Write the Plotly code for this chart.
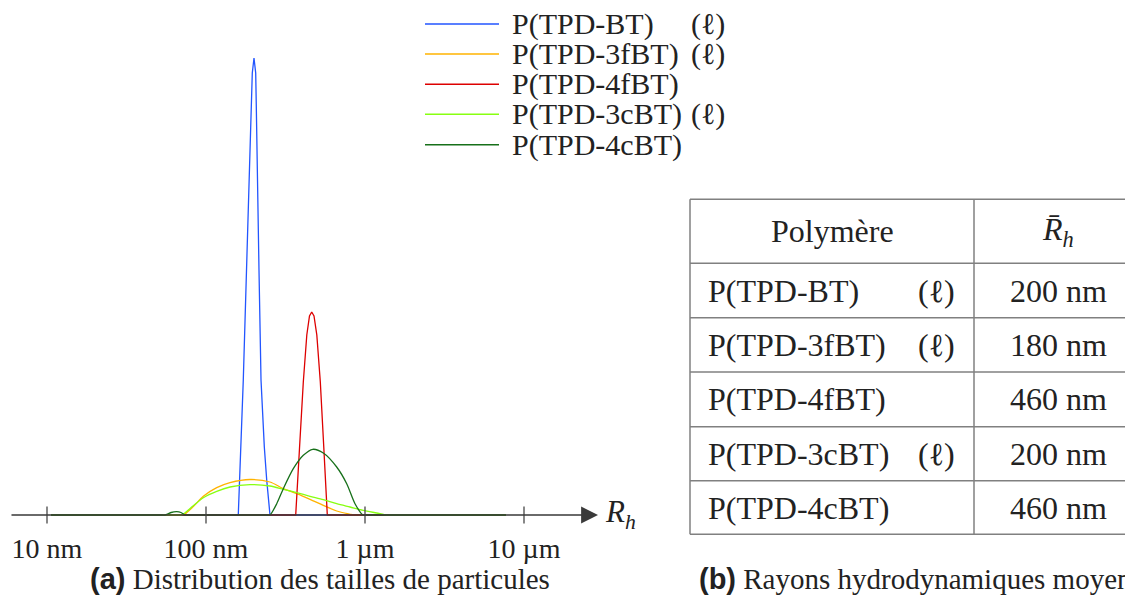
import math
import plotly.graph_objects as go

# ---------------- data ----------------
names = ["P(TPD-BT)", "P(TPD-3fBT)", "P(TPD-4fBT)", "P(TPD-3cBT)", "P(TPD-4cBT)"]
tags = ["(ℓ)", "(ℓ)", "", "(ℓ)", ""]
mean_rh = ["200 nm", "180 nm", "460 nm", "200 nm", "460 nm"]

rh_bt = [10.6, 155, 159.6, 171.6, 179.3, 187.2, 191.9, 195.5, 200.4, 205.4, 207.2,
         209.3, 215.4, 221.8, 226.0, 232.7, 240.9, 252.6, 262, 7700]
int_bt = [0, 0, 0, 13.5, 24.5, 35.5, 40.8, 44.2, 45.7, 44.2, 40.8,
          35.5, 24.5, 13.5, 10.2, 6.8, 3.5, 0, 0, 0]

rh_3fbt = [10.6, 69, 72.0, 83.2, 96.2, 116.8, 141.6, 189.1, 252.6, 306.4, 371.9,
           451.0, 546.6, 663.7, 804.9, 844.1, 880, 7700]
int_3fbt = [0, 0, 0, 0.85, 1.87, 2.73, 3.23, 3.55, 3.3, 2.63, 2.13,
            1.57, 0.97, 0.4, 0.07, 0, 0, 0]

rh_4fbt = [10.6, 355, 366.6, 387.4, 409.3, 430.5, 447.6, 462.2, 477.8, 497.7,
           523.6, 550.8, 579.3, 595, 7700]
int_4fbt = [0, 0, 0, 6.7, 13.3, 18.0, 19.9, 20.3, 19.9, 18.0,
            13.3, 6.7, 0, 0, 0]

rh_3cbt = [10.6, 67.5, 70.3, 83.2, 96.2, 116.8, 141.6, 189.1, 252.6, 306.4, 371.9,
           451.0, 546.6, 663.7, 804.9, 975.7, 1185, 1369.6, 1430, 7700]
int_3cbt = [0, 0, 0, 0.93, 1.73, 2.37, 2.8, 3.03, 2.9, 2.57, 2.23,
            1.87, 1.53, 1.13, 0.8, 0.47, 0.2, 0, 0, 0]

rh_4cbt = [10.6, 53, 55.2, 60.3, 65.4, 69.6, 73.8, 76.5, 245, 252.6, 278.5, 306.4,
           354.1, 409.3, 469.0, 546.6, 663.7, 767.4, 865.2, 971.4, 1000, 7700]
int_4cbt = [0, 0, 0, 0.25, 0.33, 0.25, 0, 0, 0, 0, 1.13, 2.63,
            4.63, 5.97, 6.57, 6.2, 4.8, 3.13, 1.13, 0, 0, 0]

series_rh = [rh_bt, rh_3fbt, rh_4fbt, rh_3cbt, rh_4cbt]
series_int = [int_bt, int_3fbt, int_4fbt, int_3cbt, int_4cbt]

tick_vals = [10, 100, 1000, 10000]
tick_text = ["10 nm", "100 nm", "1 µm", "10 µm"]

# ---------------- style / layout ----------------
OFF = 8                      # page body margin of the html page
W, H = 1133 - OFF, 595 - OFF
SERIF = "Liberation Serif"
TXT = "#222222"
colors = ["#2255ff", "#ffb300", "#dd0000", "#88ff11", "#17701a"]
shapes_mode = ["linear", "spline", "linear", "spline", "spline"]
AXIS_COLOR = "#3a3a3a"
GRID_COLOR = "#808080"
axis_start_nm = 5.85
axis_tip_nm = 29200
tick_half = 0.85
X0PX, DEC = 47, 159
BASE, UNIT = 515, 10
LEG_FS, TAB_FS, TICK_FS, CAP_FS = 30, 32, 28, 29


def px(x):
    return (x - OFF) / W


def py(y):
    return 1 - (y - OFF) / H


fig = go.Figure()

for name, c, mode, xs, ys in zip(names, colors, shapes_mode, series_rh, series_int):
    fig.add_trace(go.Scatter(
        x=xs, y=ys, mode="lines", name=name,
        line=dict(color=c, width=1.3, shape=mode, smoothing=0.8),
        showlegend=False, hoverinfo="skip"))

tx, ty = [], []
for v in tick_vals:
    tx += [v, v, None]
    ty += [-tick_half, tick_half, None]
fig.add_trace(go.Scatter(x=tx, y=ty, mode="lines",
                         line=dict(color="#555555", width=1.4),
                         showlegend=False, hoverinfo="skip"))

annotations = []
shapes = []

annotations.append(dict(
    x=math.log10(axis_tip_nm), y=0, xref="x", yref="y",
    ax=math.log10(axis_start_nm), ay=0, axref="x", ayref="y",
    text="", showarrow=True, arrowhead=2, arrowsize=2.6, arrowwidth=1.3,
    arrowcolor=AXIS_COLOR, standoff=0, startstandoff=0))

annotations.append(dict(
    x=px(603), y=py(514), xref="paper", yref="paper", xanchor="left", yanchor="middle",
    text="<i>R</i><sub><i>h</i></sub>", showarrow=False,
    font=dict(family=SERIF, size=31, color=TXT)))

leg_y = [24, 54, 84.3, 114.3, 144.7]
for i, (name, tag, c) in enumerate(zip(names, tags, colors)):
    y = leg_y[i]
    shapes.append(dict(type="line", xref="paper", yref="paper",
                       x0=px(425), x1=px(499), y0=py(y), y1=py(y),
                       line=dict(color=c, width=1.5)))
    annotations.append(dict(x=px(510), y=py(y), xref="paper", yref="paper",
                            xanchor="left", yanchor="middle", text=name, showarrow=False,
                            font=dict(family=SERIF, size=LEG_FS, color=TXT)))
    if tag:
        annotations.append(dict(x=px(689), y=py(y), xref="paper", yref="paper",
                                xanchor="left", yanchor="middle", text=tag, showarrow=False,
                                font=dict(family=SERIF, size=LEG_FS, color=TXT)))

row_lines = [199.3, 263.3, 317.7, 372, 426.7, 480.7, 534.3]
for y in row_lines:
    shapes.append(dict(type="line", xref="paper", yref="paper",
                       x0=px(690), x1=px(1160), y0=py(y), y1=py(y),
                       line=dict(color=GRID_COLOR, width=1.5)))
for x in [690, 974]:
    shapes.append(dict(type="line", xref="paper", yref="paper",
                       x0=px(x), x1=px(x), y0=py(row_lines[0]), y1=py(row_lines[-1]),
                       line=dict(color=GRID_COLOR, width=1.5)))

annotations.append(dict(x=px(832), y=py(231.3), xref="paper", yref="paper",
                        xanchor="center", yanchor="middle", text="Polymère", showarrow=False,
                        font=dict(family=SERIF, size=TAB_FS, color=TXT)))
annotations.append(dict(x=px(1058), y=py(231.3), xref="paper", yref="paper",
                        xanchor="center", yanchor="middle",
                        text="<i>R̄</i><sub><i>h</i></sub>", showarrow=False,
                        font=dict(family=SERIF, size=TAB_FS, color=TXT)))
for i, (name, tag, val) in enumerate(zip(names, tags, mean_rh)):
    yc = (row_lines[i + 1] + row_lines[i + 2]) / 2
    annotations.append(dict(x=px(706), y=py(yc), xref="paper", yref="paper",
                            xanchor="left", yanchor="middle", text=name, showarrow=False,
                            font=dict(family=SERIF, size=TAB_FS, color=TXT)))
    if tag:
        annotations.append(dict(x=px(957), y=py(yc), xref="paper", yref="paper",
                                xanchor="right", yanchor="middle", text=tag, showarrow=False,
                                font=dict(family=SERIF, size=TAB_FS, color=TXT)))
    annotations.append(dict(x=px(1058), y=py(yc), xref="paper", yref="paper",
                            xanchor="center", yanchor="middle", text=val, showarrow=False,
                            font=dict(family=SERIF, size=TAB_FS, color=TXT)))

annotations.append(dict(
    x=px(88), y=py(579), xref="paper", yref="paper", xanchor="left", yanchor="middle",
    text="<span style='font-family:sans-serif'><b>(a)</b></span> Distribution des tailles de particules",
    showarrow=False, font=dict(family=SERIF, size=CAP_FS, color=TXT)))
annotations.append(dict(
    x=px(697), y=py(579), xref="paper", yref="paper", xanchor="left", yanchor="middle",
    text="<span style='font-family:sans-serif'><b>(b)</b></span> Rayons hydrodynamiques moyens",
    showarrow=False, font=dict(family=SERIF, size=CAP_FS, color=TXT)))

fig.update_layout(
    width=W, height=H, margin=dict(l=0, r=0, t=0, b=0),
    paper_bgcolor="white", plot_bgcolor="white",
    font=dict(family=SERIF),
    xaxis=dict(type="log",
               range=[1 + (OFF - X0PX) / DEC, 1 + (OFF + W - X0PX) / DEC], domain=[0, 1],
               showgrid=False, zeroline=False, showline=False,
               tickvals=tick_vals, ticktext=tick_text,
               ticks="outside", ticklen=8, tickcolor="rgba(0,0,0,0)",
               tickfont=dict(family=SERIF, size=TICK_FS, color=TXT),
               anchor="free", position=1 - (BASE - OFF) / H),
    yaxis=dict(range=[(BASE - OFF - H) / UNIT, (BASE - OFF) / UNIT], domain=[0, 1],
               visible=False),
    shapes=shapes, annotations=annotations,
)

fig.write_html("out.html")
